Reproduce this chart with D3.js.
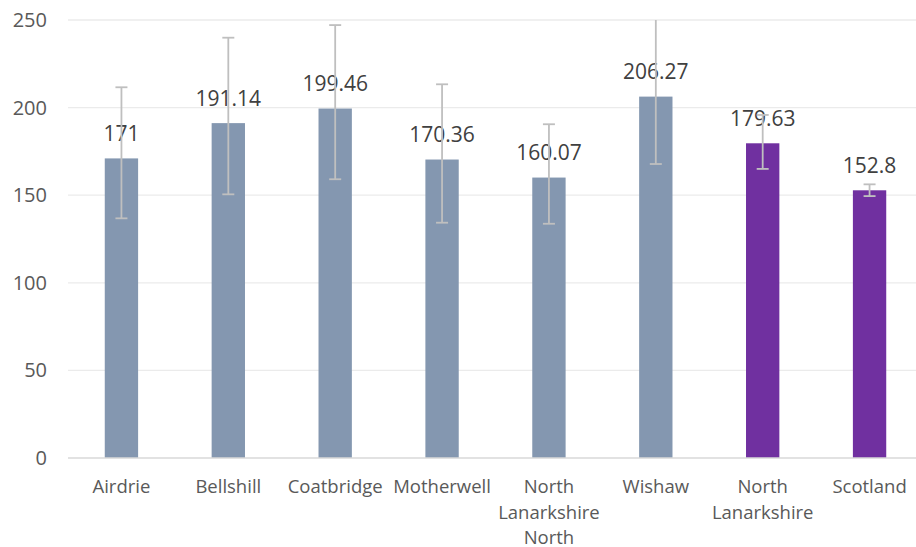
<!DOCTYPE html>
<html>
<head>
<meta charset="utf-8">
<script src="https://cdn.jsdelivr.net/npm/d3@7"></script>
<style>
  html, body { margin: 0; padding: 0; background: #fff; }
  svg { display: block; font-family: "Open Sans", sans-serif; }
</style>
</head>
<body>
<svg id="chart" width="916" height="547"></svg>
<script>
const categories = ["Airdrie", "Bellshill", "Coatbridge", "Motherwell", "North Lanarkshire North", "Wishaw", "North Lanarkshire", "Scotland"];
const values = [171, 191.14, 199.46, 170.36, 160.07, 206.27, 179.63, 152.8];
const lowerCI = [136.8, 150.5, 159.1, 134.3, 133.7, 167.8, 165.0, 149.5];
const upperCI = [211.6, 239.9, 247.1, 213.3, 190.5, 255.0, 195.8, 156.2];
const highlighted = [false, false, false, false, false, false, true, true];
const yTicks = [0, 50, 100, 150, 200, 250];

(function () {
const svg = d3.select("#chart");
const pLeft = 68, pRight = 923, pTop = 20, pBottom = 458;

const x = d3.scaleBand().domain(categories).range([pLeft, pRight]).paddingInner(0.688).paddingOuter(0.344);
const y = d3.scaleLinear().domain([0, 250]).range([pBottom, pTop]);

svg.append("defs").append("clipPath").attr("id", "plotclip")
  .append("rect").attr("x", 0).attr("y", pTop).attr("width", 916).attr("height", pBottom - pTop + 10);

// gridlines
svg.append("g").selectAll("line").data(yTicks.filter(d => d > 0)).join("line")
  .attr("x1", pLeft).attr("x2", pRight)
  .attr("y1", d => y(d)).attr("y2", d => y(d))
  .attr("stroke", "#EBEBEB").attr("stroke-width", 1.3);

// y axis labels
const yAxis = d3.axisLeft(y).tickValues(yTicks).tickSize(0).tickPadding(0);
const yg = svg.append("g").attr("transform", `translate(47,0)`).call(yAxis);
yg.select(".domain").remove();
yg.selectAll("text").attr("font-size", 20).attr("fill", "#595959").attr("font-family", "Open Sans, sans-serif");

const data = categories.map((c, i) => ({c, v: values[i], lo: lowerCI[i], hi: upperCI[i], h: highlighted[i]}));

// bars
svg.append("g").selectAll("rect").data(data).join("rect")
  .attr("x", d => x(d.c)).attr("width", x.bandwidth())
  .attr("y", d => y(d.v)).attr("height", d => y(0) - y(d.v))
  .attr("fill", d => d.h ? "#7030A0" : "#8497B0");

// baseline
svg.append("line").attr("x1", pLeft).attr("x2", pRight).attr("y1", y(0)).attr("y2", y(0))
  .attr("stroke", "#D9D9D9").attr("stroke-width", 1.5);

// data labels
svg.append("g").selectAll("text").data(data).join("text")
  .attr("x", d => x(d.c) + x.bandwidth() / 2)
  .attr("y", d => y(d.v) - 17.5)
  .attr("text-anchor", "middle")
  .attr("font-size", 21).attr("fill", "#404040")
  .text(d => d.v);

// error bars
const eg = svg.append("g").attr("clip-path", "url(#plotclip)").attr("stroke", "#BFBFBF").attr("stroke-width", 1.8);
data.forEach(d => {
  const cx = x(d.c) + x.bandwidth() / 2;
  eg.append("line").attr("x1", cx).attr("x2", cx).attr("y1", y(d.lo)).attr("y2", y(d.hi));
  [d.lo, d.hi].forEach(v => {
    if (v <= 250) eg.append("line").attr("x1", cx - 6).attr("x2", cx + 6).attr("y1", y(v)).attr("y2", y(v));
  });
});

// category labels
const xg = svg.append("g");
data.forEach(d => {
  const cx = x(d.c) + x.bandwidth() / 2;
  const t = xg.append("text").attr("text-anchor", "middle").attr("font-size", 18.5).attr("fill", "#595959");
  d.c.split(" ").forEach((w, j) => {
    t.append("tspan").attr("x", cx).attr("y", 493 + j * 25.5).text(w);
  });
});
})();
</script>
</body>
</html>
